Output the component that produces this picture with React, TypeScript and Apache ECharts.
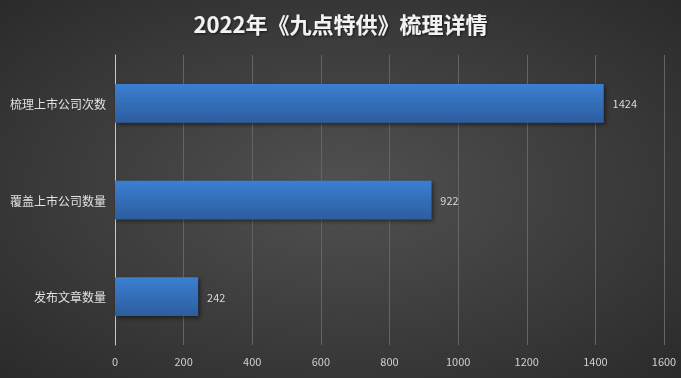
import React, { useEffect, useRef } from "react";
import * as echarts from "echarts";

const titleText = "2022年《九点特供》梳理详情";
const categories = ["发布文章数量", "覆盖上市公司数量", "梳理上市公司次数"];
const values = [242, 922, 1424];
const xTicks = { min: 0, max: 1600, interval: 200 };

export default function App() {
  const ref = useRef<HTMLDivElement>(null);
  useEffect(() => {
    const chart = echarts.init(ref.current!, null, { renderer: "svg" });
    chart.setOption({
      animation: false,
      backgroundColor: new echarts.graphic.RadialGradient(0.5, 0.5, 0.75, [
        { offset: 0, color: "#515151" },
        { offset: 1, color: "#282828" },
      ]),
      title: {
        text: titleText,
        left: "center",
        top: 7,
        textStyle: {
          color: "#f2f2f2",
          fontSize: 22,
          fontWeight: "bold",
          fontFamily: "Noto Sans CJK SC",
          textShadowColor: "rgba(0,0,0,0.6)",
          textShadowBlur: 2,
          textShadowOffsetX: 1,
          textShadowOffsetY: 1,
        },
      },
      grid: { left: 115, right: 17, top: 55, bottom: 33, containLabel: false },
      xAxis: {
        type: "value",
        min: xTicks.min,
        max: xTicks.max,
        interval: xTicks.interval,
        axisLine: { show: false },
        axisTick: { show: false },
        axisLabel: {
          color: "#d0d0d0",
          fontSize: 11,
          margin: 10,
          fontFamily: "Noto Sans CJK SC",
          formatter: (v: number) => String(v),
        },
        splitLine: { lineStyle: { color: "#646464", width: 1 } },
      },
      yAxis: {
        type: "category",
        data: categories,
        axisLine: { show: true, lineStyle: { color: "#c8c8c8", width: 1 } },
        axisTick: { show: false },
        axisLabel: { color: "#e0e0e0", fontSize: 12, margin: 9, fontFamily: "Noto Sans CJK SC" },
      },
      series: [
        {
          type: "bar",
          data: values,
          barWidth: "40%",
          itemStyle: {
            color: new echarts.graphic.LinearGradient(0, 0, 0, 1, [
              { offset: 0, color: "#3b7fd2" },
              { offset: 1, color: "#2c5d9e" },
            ]),
            shadowColor: "rgba(0,0,0,0.5)",
            shadowBlur: 4,
            shadowOffsetX: 2,
            shadowOffsetY: 2,
          },
          label: {
            show: true,
            position: "right",
            distance: 9,
            color: "#d8d8d8",
            fontSize: 11,
            fontFamily: "Noto Sans CJK SC",
          },
        },
      ],
    });
    return () => chart.dispose();
  }, []);
  return <div ref={ref} style={{ width: 681, height: 378, position: "fixed", left: 0, top: 0 }} />;
}
